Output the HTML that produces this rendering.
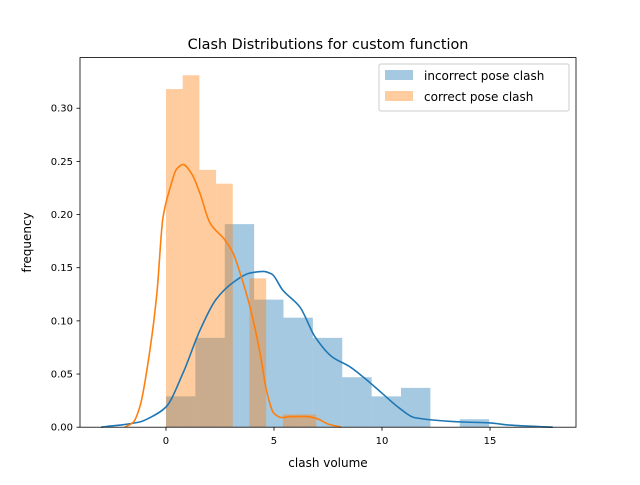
<!DOCTYPE html>
<html><head><meta charset="utf-8"><style>
body{margin:0;background:#fff;}
svg text{font-family:"DejaVu Sans","Liberation Sans",sans-serif;fill:#000;}
</style></head><body>
<svg id="chart" width="640" height="480" xmlns="http://www.w3.org/2000/svg">
<rect width="640" height="480" fill="#fff"/>
<text x="328" y="49" font-size="14.4" text-anchor="middle">Clash Distributions for custom function</text>
<g id="plot"></g>
<rect x="80" y="57.6" width="496" height="369.6" fill="none" stroke="#000" stroke-width="0.8"/>
<text x="328" y="467" font-size="12" text-anchor="middle">clash volume</text>
<text transform="translate(31,242.4) rotate(-90)" font-size="12" text-anchor="middle">frequency</text>
<g>
<rect x="379" y="64" width="190" height="47" rx="2" fill="#fff" fill-opacity="0.8" stroke="#ccc" stroke-width="1"/>
<rect x="385" y="70" width="28" height="10" fill="#1f77b4" fill-opacity="0.4"/>
<text x="424" y="80" font-size="12">incorrect pose clash</text>
<rect x="385" y="91" width="28" height="10" fill="#ff7f0e" fill-opacity="0.4"/>
<text x="424" y="101" font-size="12">correct pose clash</text>
</g>
</svg>
<script>
const xTicks=[0,5,10,15];
const yTicks=[0,0.05,0.10,0.15,0.20,0.25,0.30];
const yTickLabels=["0.00","0.05","0.10","0.15","0.20","0.25","0.30"];
const blueStart=0, blueWidth=1.36;
const blueHeights=[0.029,0.084,0.191,0.120,0.103,0.084,0.047,0.029,0.037,0,0.0075];
const orangeStart=0, orangeWidth=0.773;
const orangeHeights=[0.318,0.331,0.242,0.229,0,0.140,0,0.012,0.012];
const blueKdeX=[-3,-1.2,-0.74,0,0.79,1.57,2.31,3.1,3.9,4.5,4.9,5.4,6.2,6.9,7.7,8.5,9.2,10,10.8,11.5,13.6,15,15.9,17.9];
const blueKdeY=[0,0.005,0.009,0.019,0.051,0.091,0.12,0.136,0.145,0.1465,0.144,0.129,0.113,0.085,0.066,0.057,0.046,0.032,0.018,0.009,0.005,0.004,0.002,0];
const orangeKdeX=[-1.9,-1.5,-1.2,-0.74,-0.42,-0.14,0.19,0.5,0.79,1.2,1.57,2.04,2.73,3.1,3.43,3.89,4.35,4.68,5.0,5.37,5.8,6.5,7.0,7.5,8.1];
const orangeKdeY=[0,0.005,0.02,0.073,0.126,0.197,0.225,0.243,0.247,0.238,0.22,0.192,0.176,0.164,0.145,0.113,0.07,0.032,0.013,0.009,0.01,0.01,0.008,0.003,0];
const X0=80,X1=576,Y0=427.2,Y1=57.6,xmin=-3.98,xmax=18.98,ymin=0,ymax=0.3476;
const sx=v=>X0+(v-xmin)/(xmax-xmin)*(X1-X0);
const sy=v=>Y0-(v-ymin)/(ymax-ymin)*(Y0-Y1);
const NS="http://www.w3.org/2000/svg";
const g=document.getElementById('plot');
function el(t,a){const e=document.createElementNS(NS,t);for(const k in a)e.setAttribute(k,a[k]);g.appendChild(e);return e;}
blueHeights.forEach((h,i)=>{if(!h)return;const x=blueStart+i*blueWidth;
const r=el('rect',{x:sx(x),y:sy(h),width:sx(x+blueWidth)-sx(x),height:sy(0)-sy(h),fill:'#1f77b4','fill-opacity':0.4});

});
orangeHeights.forEach((h,i)=>{if(!h)return;const x=orangeStart+i*orangeWidth;
const r=el('rect',{x:sx(x),y:sy(h),width:sx(x+orangeWidth)-sx(x),height:sy(0)-sy(h),fill:'#ff7f0e','fill-opacity':0.4});

});
function smooth(xs,ys){
const px=xs.map(sx),py=ys.map(sy),n=px.length;
const d=[],m=new Array(n);
for(let i=0;i<n-1;i++)d.push((py[i+1]-py[i])/(px[i+1]-px[i]));
m[0]=d[0];m[n-1]=d[n-2];
for(let i=1;i<n-1;i++){if(d[i-1]*d[i]<=0)m[i]=0;else{const h0=px[i]-px[i-1],h1=px[i+1]-px[i];const w1=2*h1+h0,w2=h1+2*h0;m[i]=(w1+w2)/(w1/d[i-1]+w2/d[i]);}}
let s='M'+px[0]+','+py[0];
for(let i=0;i<n-1;i++){const h=(px[i+1]-px[i])/3;
s+=' C'+(px[i]+h)+','+(py[i]+m[i]*h)+' '+(px[i+1]-h)+','+(py[i+1]-m[i+1]*h)+' '+px[i+1]+','+py[i+1];}
return s;}
const lb=el('path',{d:smooth(blueKdeX,blueKdeY),fill:'none',stroke:'#1f77b4','stroke-width':1.6});


const lo=el('path',{d:smooth(orangeKdeX,orangeKdeY),fill:'none',stroke:'#ff7f0e','stroke-width':1.6});


xTicks.forEach(t=>{el('line',{x1:sx(t),x2:sx(t),y1:Y0,y2:Y0+3.5,stroke:'#000','stroke-width':0.8});
const tx=el('text',{x:sx(t),y:Y0+17,'font-size':10,'text-anchor':'middle'});tx.textContent=t;

});
yTicks.forEach((t,i)=>{el('line',{x1:X0-3.5,x2:X0,y1:sy(t),y2:sy(t),stroke:'#000','stroke-width':0.8});
const tx=el('text',{x:X0-7,y:sy(t)+3.5,'font-size':10,'text-anchor':'end'});tx.textContent=yTickLabels[i];

});
</script>
</body></html>
